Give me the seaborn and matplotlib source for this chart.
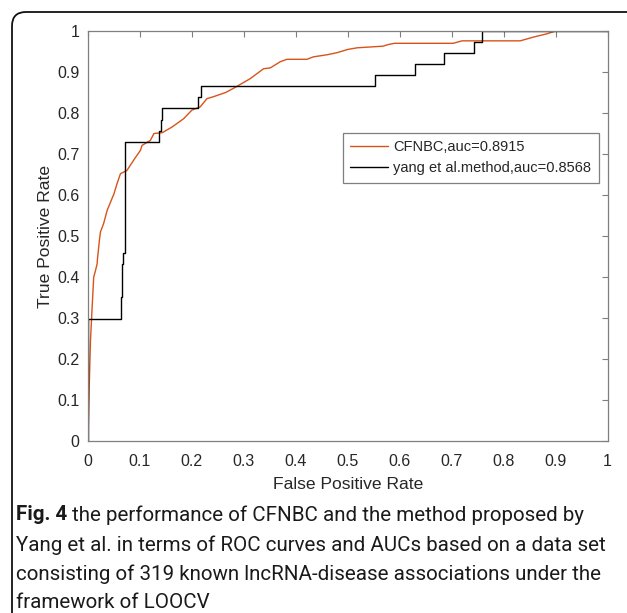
import numpy as np
import pandas as pd
import seaborn as sns
import matplotlib
matplotlib.use("Agg")
import matplotlib.pyplot as plt
from matplotlib.patches import FancyBboxPatch
from matplotlib.transforms import IdentityTransform

# ---- data ----
cfnbc_fpr = [0, 0.0015, 0.003, 0.0048, 0.008, 0.011, 0.0145, 0.0177, 0.018, 0.022, 0.024, 0.030,
             0.037, 0.05, 0.056, 0.0625, 0.075, 0.09, 0.101, 0.104, 0.12, 0.127, 0.143, 0.162,
             0.184, 0.2, 0.216, 0.229, 0.242, 0.265, 0.284, 0.3125, 0.338, 0.351, 0.37, 0.383,
             0.4215, 0.434, 0.46, 0.479, 0.50, 0.518, 0.568, 0.578, 0.59, 0.703, 0.72, 0.832,
             0.857, 0.883, 0.9, 1.0]
cfnbc_tpr = [0, 0.083, 0.164, 0.246, 0.327, 0.40, 0.416, 0.433, 0.441, 0.49, 0.51, 0.53,
             0.563, 0.603, 0.628, 0.652, 0.66, 0.689, 0.709, 0.721, 0.733, 0.75, 0.752, 0.766,
             0.786, 0.807, 0.815, 0.835, 0.84, 0.85, 0.863, 0.884, 0.908, 0.91, 0.925, 0.931,
             0.931, 0.937, 0.942, 0.947, 0.955, 0.959, 0.963, 0.967, 0.97, 0.97, 0.976, 0.976,
             0.985, 0.993, 1.0, 1.0]

yang_fpr = [0, 0, 0.064, 0.064, 0.066, 0.066, 0.068, 0.068, 0.071, 0.071, 0.137, 0.137, 0.141,
            0.141, 0.143, 0.143, 0.211, 0.211, 0.218, 0.218, 0.553, 0.553, 0.630, 0.630, 0.685,
            0.685, 0.743, 0.743, 0.758, 0.758, 1.0]
yang_tpr = [0, 0.297, 0.297, 0.351, 0.351, 0.432, 0.432, 0.459, 0.459, 0.730, 0.730, 0.757, 0.757,
            0.784, 0.784, 0.811, 0.811, 0.838, 0.838, 0.865, 0.865, 0.892, 0.892, 0.919, 0.919,
            0.946, 0.946, 0.973, 0.973, 1.0, 1.0]

labels = ["CFNBC,auc=0.8915", "yang et al.method,auc=0.8568"]
ticks = [0, 0.1, 0.2, 0.3, 0.4, 0.5, 0.6, 0.7, 0.8, 0.9, 1]
tick_labels = ["0", "0.1", "0.2", "0.3", "0.4", "0.5", "0.6", "0.7", "0.8", "0.9", "1"]
caption_lines = [
    "the performance of CFNBC and the method proposed by",
    "Yang et al. in terms of ROC curves and AUCs based on a data set",
    "consisting of 319 known lncRNA-disease associations under the",
    "framework of LOOCV",
]

df = pd.concat([
    pd.DataFrame({"fpr": cfnbc_fpr, "tpr": cfnbc_tpr, "method": labels[0]}),
    pd.DataFrame({"fpr": yang_fpr, "tpr": yang_tpr, "method": labels[1]}),
])

sns.set_theme(style="white")
plt.rcParams["font.family"] = ["Liberation Sans", "DejaVu Sans"]

W, H = 627, 613
fig = plt.figure(figsize=(W / 100, H / 100), dpi=100)
ax = fig.add_axes([88 / W, (H - 441) / H, (607.5 - 88) / W, (441 - 31) / H])

palette = {labels[0]: "#D95319", labels[1]: "#000000"}
for lab in labels:
    sub = df[df["method"] == lab]
    sns.lineplot(x=sub["fpr"].to_numpy(), y=sub["tpr"].to_numpy(), sort=False, estimator=None,
                 color=palette[lab], linewidth=1.0, ax=ax, label=lab)

ax.set_xlim(0, 1)
ax.set_ylim(0, 1)
ax.set_xticks(ticks)
ax.set_yticks(ticks)
ax.set_xticklabels(tick_labels)
ax.set_yticklabels(tick_labels)
ax.tick_params(direction="in", length=4.5, width=0.8, color="#7f7f7f", labelsize=11.5,
               labelcolor="#262626", top=True, right=True)
ax.tick_params(axis="x", pad=9)
ax.tick_params(axis="y", pad=6)
for s in ax.spines.values():
    s.set_visible(True)
    s.set_color("#7f7f7f")
    s.set_linewidth(0.9)
ax.set_xlabel("False Positive Rate", fontsize=12.6, color="#262626", labelpad=6)
ax.set_ylabel("True Positive Rate", fontsize=12.6, color="#262626", labelpad=3)

leg = ax.legend(loc="upper right", bbox_to_anchor=(0.983, 0.752), fontsize=10.5,
                frameon=True, fancybox=False, framealpha=1, edgecolor="#7f7f7f",
                handlelength=2.6, handletextpad=0.35, borderpad=0.5, labelspacing=0.5,
                borderaxespad=0)
leg.get_frame().set_linewidth(0.9)
for t in leg.get_texts():
    t.set_color("#262626")

# rounded figure frame (open at right / bottom edges of the image)
frame = FancyBboxPatch((12, -60), 700, H - 12 + 60, boxstyle="round,pad=0,rounding_size=14",
                       transform=IdentityTransform(), fill=False, edgecolor="#111111",
                       linewidth=1.3, figure=fig)
fig.patches.append(frame)

# caption, fitted so the widest line ends where the reference's does
cap_font = ["Roboto", "DejaVu Sans"]
line_y = [515, 545, 574, 603]
renderer = fig.canvas.get_renderer()

def draw_caption(size):
    texts = []
    t0 = fig.text(16 / W, 1 - line_y[0] / H, "Fig. 4", fontsize=size, fontweight="bold",
                  family=cap_font, va="center", ha="left", color="#1a1a1a")
    texts.append(t0)
    bb = t0.get_window_extent(renderer=renderer)
    texts.append(fig.text((bb.x1 + 0.3 * size) / W, 1 - line_y[0] / H, caption_lines[0],
                          fontsize=size, family=cap_font, va="center", ha="left", color="#1a1a1a"))
    for i in range(1, 4):
        texts.append(fig.text(16 / W, 1 - line_y[i] / H, caption_lines[i], fontsize=size,
                              family=cap_font, va="center", ha="left", color="#1a1a1a"))
    return texts

size = 13.0
texts = draw_caption(size)
right = max(t.get_window_extent(renderer=renderer).x1 for t in texts)
for t in texts:
    t.remove()
size = size * (604 - 16) / (right - 16)
draw_caption(size)

fig.savefig("out.png", dpi=100)
